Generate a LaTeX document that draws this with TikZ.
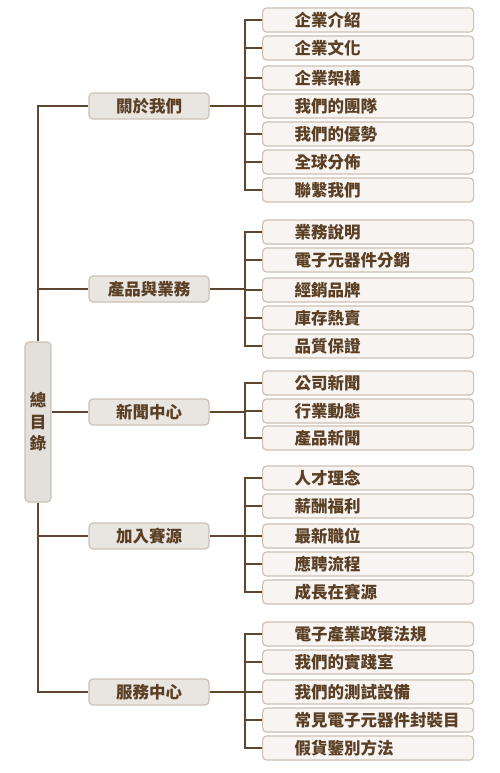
\documentclass[tikz,border=0pt]{standalone}
\usepackage{fontspec}
\newfontfamily\cjk{Noto Sans CJK TC}
\definecolor{linec}{HTML}{5E4630}
\definecolor{textc}{HTML}{5A3F24}
\definecolor{bordc}{HTML}{CDC1B4}
\definecolor{rootf}{HTML}{E3DFDA}
\definecolor{midf}{HTML}{E9E5E1}
\definecolor{leaff}{HTML}{F7F4F2}
\tikzset{
  conn/.style={draw=linec, line width=1.1pt},
  rootbox/.style={draw=bordc, line width=1.2pt, fill=rootf, rounded corners=4pt,
    minimum width=26pt, minimum height=160pt, inner sep=0pt, align=center,
    text=textc, font=\cjk\bfseries\fontsize{16.5}{21.5}\selectfont},
  midbox/.style={draw=bordc, line width=1.2pt, fill=midf, rounded corners=4pt,
    minimum width=120pt, minimum height=26pt, inner sep=0pt,
    text=textc, font=\cjk\bfseries\fontsize{16.5}{18}\selectfont},
  leafbox/.style={draw=bordc, line width=1.2pt, fill=leaff, rounded corners=4pt,
    minimum width=211pt, minimum height=24pt, inner ysep=0pt, inner xsep=0pt,
    text width=211pt, align=left, anchor=west,
    execute at begin node={\hspace*{32pt}},
    text=textc, font=\cjk\bfseries\fontsize{16.5}{18}\selectfont},
}
\begin{document}
\begin{tikzpicture}[x=1pt,y=-1pt]
\useasboundingbox (0,0) rectangle (500,773);
\fill[white] (0,0) rectangle (500,773);

% root
\node[rootbox] (root) at (38,422) {總\\目\\錄};

% level 1
\node[midbox] (m1) at (149,106) {關於我們};
\node[midbox] (m2) at (149,289) {產品與業務};
\node[midbox] (m3) at (149,412) {新聞中心};
\node[midbox] (m4) at (149,536) {加入賽源};
\node[midbox] (m5) at (149,692) {服務中心};

% leaves group 1
\node[leafbox] (a1) at (262,20) {企業介紹};
\node[leafbox] (a2) at (262,48) {企業文化};
\node[leafbox] (a3) at (262,78) {企業架構};
\node[leafbox] (a4) at (262,106) {我們的團隊};
\node[leafbox] (a5) at (262,134) {我們的優勢};
\node[leafbox] (a6) at (262,162) {全球分佈};
\node[leafbox] (a7) at (262,190) {聯繫我們};
% group 2
\node[leafbox] (b1) at (262,232) {業務說明};
\node[leafbox] (b2) at (262,260) {電子元器件分銷};
\node[leafbox] (b3) at (262,290) {經銷品牌};
\node[leafbox] (b4) at (262,318) {庫存熱賣};
\node[leafbox] (b5) at (262,346) {品質保證};
% group 3
\node[leafbox] (c1) at (262,383) {公司新聞};
\node[leafbox] (c2) at (262,411) {行業動態};
\node[leafbox] (c3) at (262,438) {產品新聞};
% group 4
\node[leafbox] (d1) at (262,478) {人才理念};
\node[leafbox] (d2) at (262,506) {薪酬福利};
\node[leafbox] (d3) at (262,536) {最新職位};
\node[leafbox] (d4) at (262,564) {應聘流程};
\node[leafbox] (d5) at (262,592) {成長在賽源};
% group 5
\node[leafbox] (e1) at (262,634) {電子產業政策法規};
\node[leafbox] (e2) at (262,662) {我們的實踐室};
\node[leafbox] (e3) at (262,692) {我們的測試設備};
\node[leafbox] (e4) at (262,720) {常見電子元器件封裝目};
\node[leafbox] (e5) at (262,748) {假貨鑒別方法};

% bracket points
\coordinate (k1) at (245,106);
\coordinate (k2) at (245,289);
\coordinate (k3) at (245,412);
\coordinate (k4) at (245,536);
\coordinate (k5) at (245,692);

% trunk connectors
\draw[conn] (root.north) |- (m1.west);
\draw[conn] (root.north) |- (m2.west);
\draw[conn] (m3.west) -- (m3.west -| root.east);
\draw[conn] (root.south) |- (m4.west);
\draw[conn] (root.south) |- (m5.west);

% level1 to bracket
\draw[conn] (m1.east) -- (k1);
\draw[conn] (m2.east) -- (k2);
\draw[conn] (m3.east) -- (k3);
\draw[conn] (m4.east) -- (k4);
\draw[conn] (m5.east) -- (k5);

\foreach \l in {a1,a2,a3,a4,a5,a6,a7} \draw[conn] (k1) |- (\l.west);
\foreach \l in {b1,b2,b3,b4,b5} \draw[conn] (k2) |- (\l.west);
\foreach \l in {c1,c2,c3} \draw[conn] (k3) |- (\l.west);
\foreach \l in {d1,d2,d3,d4,d5} \draw[conn] (k4) |- (\l.west);
\foreach \l in {e1,e2,e3,e4,e5} \draw[conn] (k5) |- (\l.west);
\end{tikzpicture}
\end{document}
